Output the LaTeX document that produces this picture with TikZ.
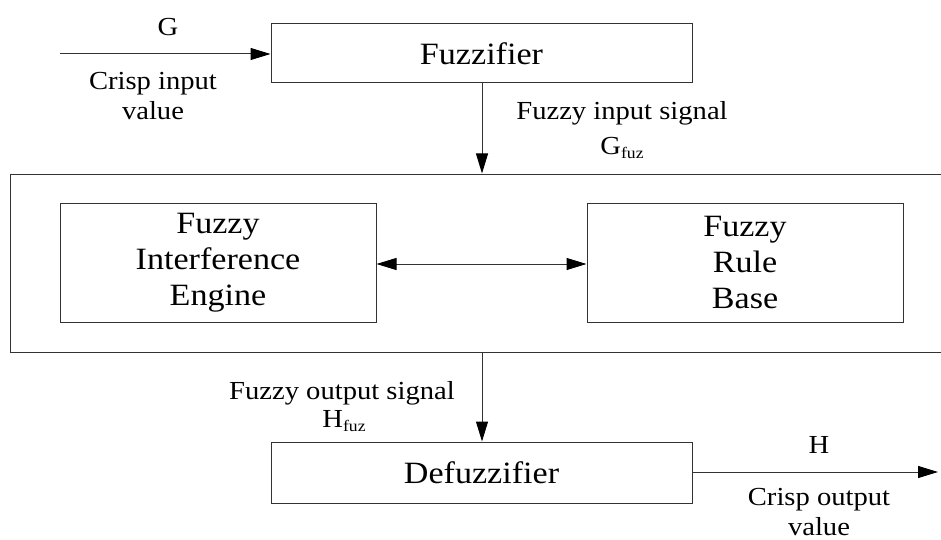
\documentclass[tikz,border=0pt]{standalone}
\usepackage{fontspec}
\setmainfont{Liberation Serif}[FakeStretch=1.1]
\usetikzlibrary{arrows.meta}
\tikzset{
  blk/.style={draw=black!80, line width=1pt, minimum width=#1, inner sep=0pt, align=center,
    font=\fontsize{31}{36}\selectfont},
  lbl/.style={inner sep=0pt, align=center, font=\fontsize{26}{30}\selectfont},
  conn/.style={draw=black!80, line width=1pt, -{Triangle[length=20pt,width=12pt,color=black]}},
  dconn/.style={draw=black!80, line width=1pt, {Triangle[length=20pt,width=12pt,color=black]}-{Triangle[length=20pt,width=12pt,color=black]}}
}
\newcommand{\subfz}[1]{#1\raisebox{-0.35ex}{\fontsize{16}{16}\selectfont fuz}}
\begin{document}
\begin{tikzpicture}[x=1pt,y=-1pt]
\useasboundingbox (0,0) rectangle (941,540);
% outer box
\node[draw=black!80, line width=1pt, minimum width=940pt, minimum height=178pt, inner sep=0pt] (outer) at (480,263) {};
\node[blk=421pt, minimum height=59pt] (fuzz) at (481.5,53.5) {Fuzzifier};
\node[blk=316pt, minimum height=119pt] (fie) at (218,262.5) {Fuzzy\\Interference\\Engine};
\node[blk=316pt, minimum height=119pt] (frb) at (745,262.5) {Fuzzy\\Rule\\Base};
\node[blk=421pt, minimum height=61pt] (defuzz) at (481.5,472.5) {Defuzzifier};
\coordinate (in) at (60,54);
\coordinate (out) at (938,472);
\draw[conn] (in) -- (fuzz.west |- in);
\draw[conn] (fuzz.south -| 482,0) -- (outer.north -| 482,0);
\draw[dconn] (fie.east |- 0,264) -- (frb.west |- 0,264);
\draw[conn] (outer.south -| 482,0) -- (defuzz.north -| 482,0);
\draw[conn] (defuzz.east |- out) -- (out);
% labels
\node[lbl] (g) at (168,27) {G};
\node[lbl] (cin) at (153,96) {Crisp input\\value};
\node[lbl] (fis) at (622,113) {Fuzzy input signal};
\node[lbl] (gfuz) at (622,148) {\subfz{G}};
\node[lbl] (fos) at (342,393) {Fuzzy output signal};
\node[lbl] (hfuz) at (344,421) {\subfz{H}};
\node[lbl] (h) at (819,445) {H};
\node[lbl] (cout) at (819,512) {Crisp output\\value};
\end{tikzpicture}
\end{document}
